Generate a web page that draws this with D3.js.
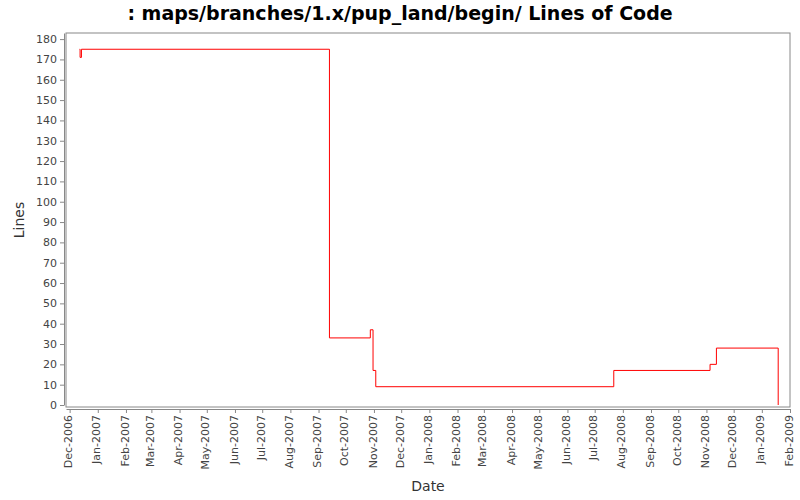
<!DOCTYPE html>
<html><head><meta charset="utf-8">
<script src="https://cdn.jsdelivr.net/npm/d3@7"></script>
<style>body{margin:0;background:#fff}</style></head>
<body><svg id="c" width="800" height="500"></svg>
<script>
const dates = ["2006-12-12","2006-12-14","2007-09-13","2007-10-28","2007-10-31","2007-11-03","2008-07-22","2008-11-05","2008-11-12","2009-01-19"];
const lines = [175,171,175,33,37,17,9,17,20,28,0];
const startDate = "2006-12-12";
const title = ": maps/branches/1.x/pup_land/begin/ Lines of Code";
const parse = d3.utcParse("%Y-%m-%d");
const pts = [{d:parse(startDate),v:175}];
// build step points: value changes at each date
const vals = [171,175,33,37,17,9,17,20,28,0];
const changeDates = ["2006-12-12","2006-12-14","2007-09-13","2007-10-28","2007-10-31","2007-11-03","2008-07-22","2008-11-05","2008-11-12","2009-01-19"];
changeDates.forEach((s,i)=>{ pts.push({d:new Date(parse(s).getTime()+ (i==0?3600e3*12:0)), v:vals[i]}); });

const svg = d3.select("#c");
const L=66,R=790,T=33,B=407;
const x = d3.scaleUtc().domain([parse("2006-11-27"), parse("2009-02-01")]).range([L,R]);
const y = d3.scaleLinear().domain([0,183]).range([405,T]);
svg.append("rect").attr("x",L).attr("y",T).attr("width",R-L).attr("height",B-T).attr("fill","#fff").attr("stroke","#888");
svg.append("text").attr("x",400).attr("y",20).attr("text-anchor","middle").attr("font-family","DejaVu Sans").attr("font-weight","bold").attr("font-size",19).text(title);
const ya = svg.append("g").attr("transform",`translate(${L-2},0)`).call(d3.axisLeft(y).tickValues(d3.range(0,181,10)).tickSize(4).tickSizeOuter(0));
ya.selectAll("text").attr("font-family","DejaVu Sans").attr("font-size",11).attr("fill","#444");
ya.selectAll("line,path").attr("stroke","#888");
const xa = svg.append("g").attr("transform",`translate(0,${B+2})`).call(d3.axisBottom(x).ticks(d3.utcMonth.every(1)).tickFormat(d3.utcFormat("%b-%Y")).tickSize(4).tickSizeOuter(0));
xa.selectAll("text").attr("font-family","DejaVu Sans").attr("font-size",11).attr("fill","#444")
  .attr("text-anchor","end").attr("transform","rotate(-90)").attr("dx","-6").attr("dy","-0.45em");
xa.selectAll("line,path").attr("stroke","#888");
svg.append("text").attr("x",428).attr("y",491).attr("text-anchor","middle").attr("font-family","DejaVu Sans").attr("font-size",14).attr("fill","#333").text("Date");
svg.append("text").attr("transform","translate(24,220) rotate(-90)").attr("text-anchor","middle").attr("font-family","DejaVu Sans").attr("font-size",14).attr("fill","#333").text("Lines");
const line = d3.line().x(d=>x(d.d)).y(d=>y(d.v)).curve(d3.curveStepAfter);
svg.append("path").datum(pts).attr("d",line).attr("fill","none").attr("stroke","#f00").attr("stroke-width",1);
</script></body></html>
